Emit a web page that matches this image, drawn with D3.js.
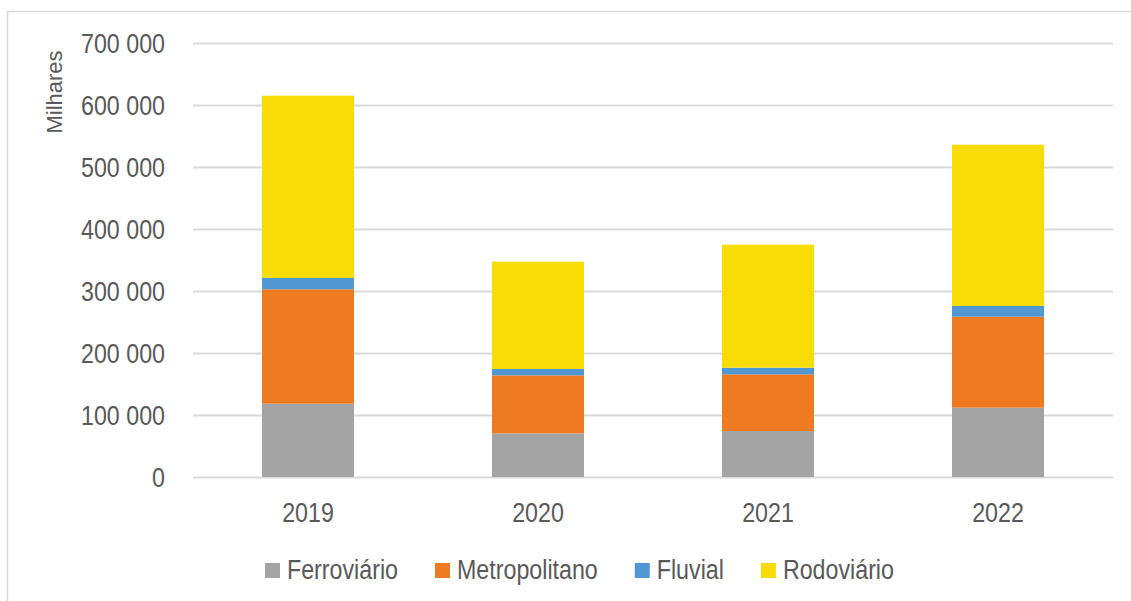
<!DOCTYPE html>
<meta charset="utf-8">
<body style="margin:0;background:#fff;">
<svg width="1131" height="601"></svg>
<script src="https://cdn.jsdelivr.net/npm/d3@7"></script>
<script>
    // valores em milhares de passageiros
    const years = ['2019', '2020', '2021', '2022'];
    const ferroviario = [118200, 70500, 74200, 111800];
    const metropolitano = [184500, 93500, 91400, 146700];
    const fluvial = [18300, 10200, 10700, 17300];
    const rodoviario = [294000, 173100, 198400, 260200];
    const seriesNames = ['Ferroviário', 'Metropolitano', 'Fluvial', 'Rodoviário'];
    const seriesColors = ['#A3A4A3', '#EE7A22', '#5097D3', '#F9DC05'];
    const yTicks = [0, 100000, 200000, 300000, 400000, 500000, 600000, 700000];

    let svg = d3.select('svg'),
        textColor = '#595959',
        font = '"Liberation Sans", Arial, sans-serif',
        squeeze = 0.83; // letra estreita (tipo Arial Narrow)

    // moldura do gráfico
    svg.append('rect')
        .attr('x', 7.5).attr('y', 11.5)
        .attr('width', 1200).attr('height', 700)
        .attr('fill', 'none')
        .attr('stroke', '#d9d9d9')
        .attr('stroke-width', 1.5);

    let table = years.map((y, i) => ({
        year: y,
        'Ferroviário': ferroviario[i],
        'Metropolitano': metropolitano[i],
        'Fluvial': fluvial[i],
        'Rodoviário': rodoviario[i]
    }));
    let stacked = d3.stack().keys(seriesNames)(table);

    let x = d3.scaleBand().domain(years).range([193, 1113]).paddingInner(0.6).paddingOuter(0.3);
    let y = d3.scaleLinear().domain([0, 700000]).range([477, 43]);
    let fmt = v => d3.format(',')(v).replace(/,/g, ' ');

    // grelha
    let yAxis = svg.append('g')
        .attr('transform', 'translate(193,0)')
        .call(d3.axisLeft(y).tickValues(yTicks).tickSize(-920).tickFormat(fmt));
    yAxis.select('.domain').remove();
    yAxis.selectAll('.tick line').attr('stroke', '#d9d9d9').attr('stroke-width', 2);
    yAxis.selectAll('.tick text')
        .attr('x', null)
        .attr('dy', '0.35em')
        .attr('transform', `translate(-28,0) scale(${squeeze},1)`)
        .attr('fill', textColor)
        .style('font-family', font)
        .style('font-size', '28px');

    // barras empilhadas
    svg.append('g').selectAll('g')
        .data(stacked)
        .join('g')
        .attr('fill', (d, i) => seriesColors[i])
        .selectAll('rect')
        .data(d => d)
        .join('rect')
        .attr('x', d => x(d.data.year))
        .attr('width', x.bandwidth())
        .attr('y', d => y(d[1]))
        .attr('height', d => y(d[0]) - y(d[1]));

    // eixo x
    let xAxis = svg.append('g')
        .attr('transform', 'translate(0,477)')
        .call(d3.axisBottom(x).tickSize(0));
    xAxis.select('.domain').remove();
    xAxis.selectAll('.tick text')
        .attr('y', null)
        .attr('dy', null)
        .attr('transform', `translate(0,45) scale(${squeeze},1)`)
        .attr('fill', textColor)
        .style('font-family', font)
        .style('font-size', '28px');

    svg.append('text')
        .attr('transform', 'translate(62,92) rotate(-90)')
        .attr('text-anchor', 'middle')
        .attr('fill', textColor)
        .style('font-family', font)
        .style('font-size', '22px')
        .text('Milhares');

    // legenda
    let lx = 265;
    seriesNames.forEach((name, i) => {
        svg.append('rect')
            .attr('x', lx).attr('y', 563)
            .attr('width', 15).attr('height', 15)
            .attr('fill', seriesColors[i]);
        let t = svg.append('text')
            .attr('transform', `translate(${lx + 22},579) scale(${squeeze},1)`)
            .attr('fill', textColor)
            .style('font-family', font)
            .style('font-size', '28px')
            .text(name);
        lx += 22 + t.node().getComputedTextLength() * squeeze + 37;
    });
</script>
</body>
